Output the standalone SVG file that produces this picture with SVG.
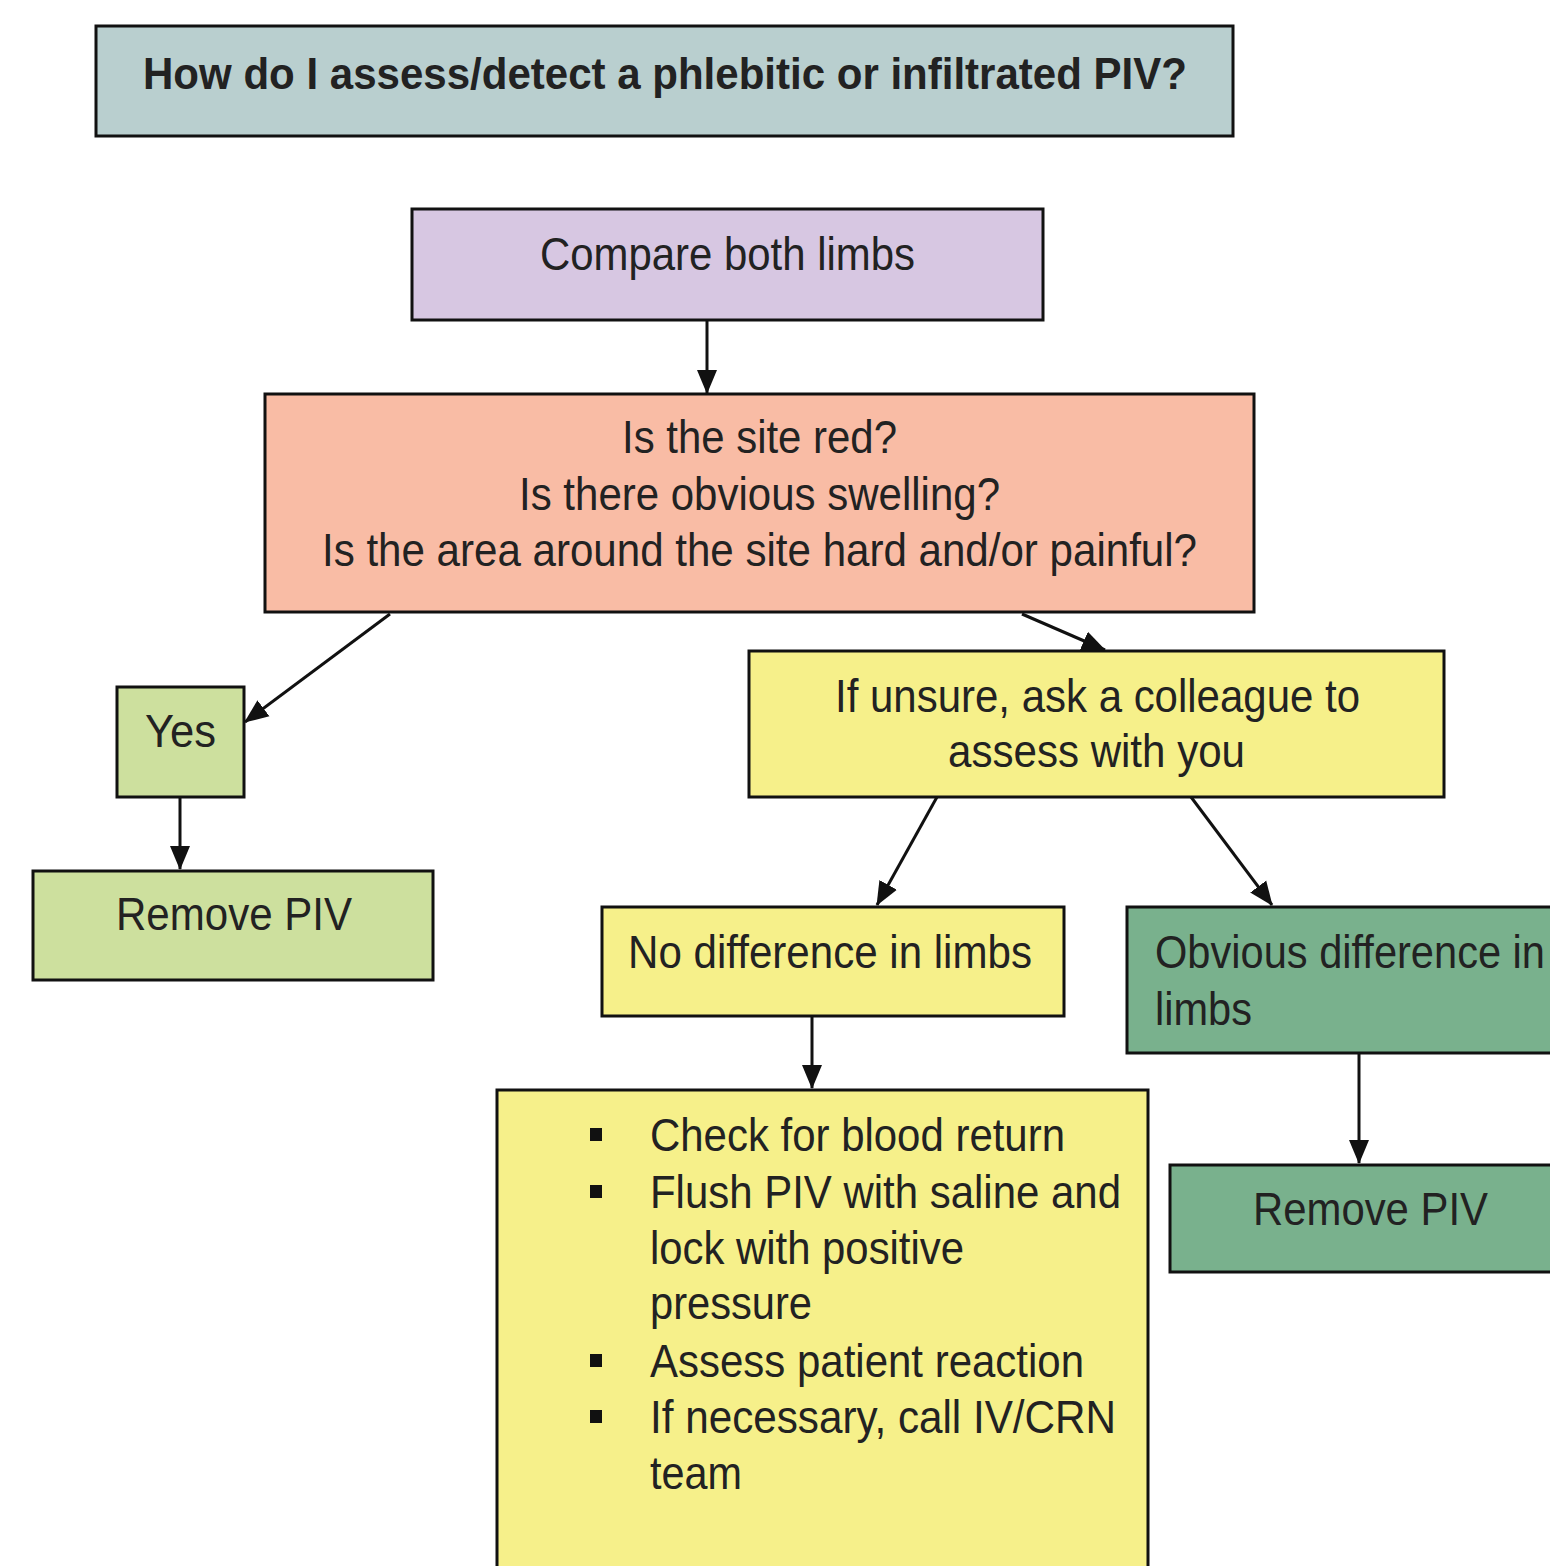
<svg xmlns="http://www.w3.org/2000/svg" width="1550" height="1566" viewBox="0 0 1550 1566">
<style>
.box{stroke:#111;stroke-width:3}
.t{font-family:"Liberation Sans",Arial,sans-serif;font-size:46px;fill:#222}
.tb{font-family:"Liberation Sans",Arial,sans-serif;font-size:44px;font-weight:bold;fill:#222}
.c{stroke:#111;stroke-width:3;fill:none;marker-end:url(#ah)}
</style>
<defs>
<marker id="ah" markerUnits="userSpaceOnUse" markerWidth="24" markerHeight="22" refX="23" refY="11" orient="auto">
<path d="M0,1 L24,11 L0,21 Z" fill="#111"/>
</marker>
</defs>
<rect width="1550" height="1566" fill="#fff"/>
<g id="title">
<rect class="box" x="96" y="26" width="1137" height="110" fill="#b9cfcf"/>
<text class="tb" x="143" y="89" textLength="1044" lengthAdjust="spacingAndGlyphs">How do I assess/detect a phlebitic or infiltrated PIV?</text>
</g>
<g id="compare">
<rect class="box" x="412" y="209" width="631" height="111" fill="#d7c7e2"/>
<text class="t" x="540" y="270" textLength="375" lengthAdjust="spacingAndGlyphs">Compare both limbs</text>
</g>
<g id="questions">
<rect class="box" x="265" y="394" width="989" height="218" fill="#f9bca5"/>
<text class="t" x="622" y="453" textLength="275" lengthAdjust="spacingAndGlyphs">Is the site red?</text>
<text class="t" x="519" y="510" textLength="481" lengthAdjust="spacingAndGlyphs">Is there obvious swelling?</text>
<text class="t" x="322" y="566" textLength="875" lengthAdjust="spacingAndGlyphs">Is the area around the site hard and/or painful?</text>
</g>
<g id="yes">
<rect class="box" x="117" y="687" width="127" height="110" fill="#cde09e"/>
<text class="t" x="145" y="747" textLength="71" lengthAdjust="spacingAndGlyphs">Yes</text>
</g>
<g id="remove-left">
<rect class="box" x="33" y="871" width="400" height="109" fill="#cde09e"/>
<text class="t" x="116" y="930" textLength="236" lengthAdjust="spacingAndGlyphs">Remove PIV</text>
</g>
<g id="unsure">
<rect class="box" x="749" y="651" width="695" height="146" fill="#f6f08a"/>
<text class="t" x="835" y="712" textLength="525" lengthAdjust="spacingAndGlyphs">If unsure, ask a colleague to</text>
<text class="t" x="948" y="767" textLength="297" lengthAdjust="spacingAndGlyphs">assess with you</text>
</g>
<g id="no-diff">
<rect class="box" x="602" y="907" width="462" height="109" fill="#f6f08a"/>
<text class="t" x="628" y="968" textLength="404" lengthAdjust="spacingAndGlyphs">No difference in limbs</text>
</g>
<g id="obvious-diff">
<rect class="box" x="1127" y="907" width="430" height="146" fill="#79b18d"/>
<text class="t" x="1155" y="968" textLength="390" lengthAdjust="spacingAndGlyphs">Obvious difference in</text>
<text class="t" x="1155" y="1025" textLength="97" lengthAdjust="spacingAndGlyphs">limbs</text>
</g>
<g id="remove-right">
<rect class="box" x="1170" y="1165" width="390" height="107" fill="#79b18d"/>
<text class="t" x="1253" y="1225" textLength="235" lengthAdjust="spacingAndGlyphs">Remove PIV</text>
</g>
<g id="actions">
<rect class="box" x="497" y="1090" width="651" height="490" fill="#f6f08a"/>
<rect x="590" y="1128" width="12" height="13" fill="#111"/>
<rect x="590" y="1185" width="12" height="13" fill="#111"/>
<rect x="590" y="1354" width="12" height="13" fill="#111"/>
<rect x="590" y="1410" width="12" height="13" fill="#111"/>
<text class="t" x="650" y="1151" textLength="415" lengthAdjust="spacingAndGlyphs">Check for blood return</text>
<text class="t" x="650" y="1208" textLength="471" lengthAdjust="spacingAndGlyphs">Flush PIV with saline and</text>
<text class="t" x="650" y="1264" textLength="314" lengthAdjust="spacingAndGlyphs">lock with positive</text>
<text class="t" x="650" y="1319" textLength="162" lengthAdjust="spacingAndGlyphs">pressure</text>
<text class="t" x="650" y="1377" textLength="434" lengthAdjust="spacingAndGlyphs">Assess patient reaction</text>
<text class="t" x="650" y="1433" textLength="466" lengthAdjust="spacingAndGlyphs">If necessary, call IV/CRN</text>
<text class="t" x="650" y="1489" textLength="92" lengthAdjust="spacingAndGlyphs">team</text>
</g>
<g id="connectors">
<line class="c" x1="707" y1="320" x2="707" y2="393"/>
<line class="c" x1="390" y1="614" x2="245" y2="722"/>
<line class="c" x1="1022" y1="614" x2="1105" y2="650"/>
<line class="c" x1="180" y1="797" x2="180" y2="869"/>
<line class="c" x1="937" y1="797" x2="877" y2="905"/>
<line class="c" x1="1191" y1="797" x2="1272" y2="905"/>
<line class="c" x1="812" y1="1016" x2="812" y2="1088"/>
<line class="c" x1="1359" y1="1053" x2="1359" y2="1163"/>
</g>
</svg>
